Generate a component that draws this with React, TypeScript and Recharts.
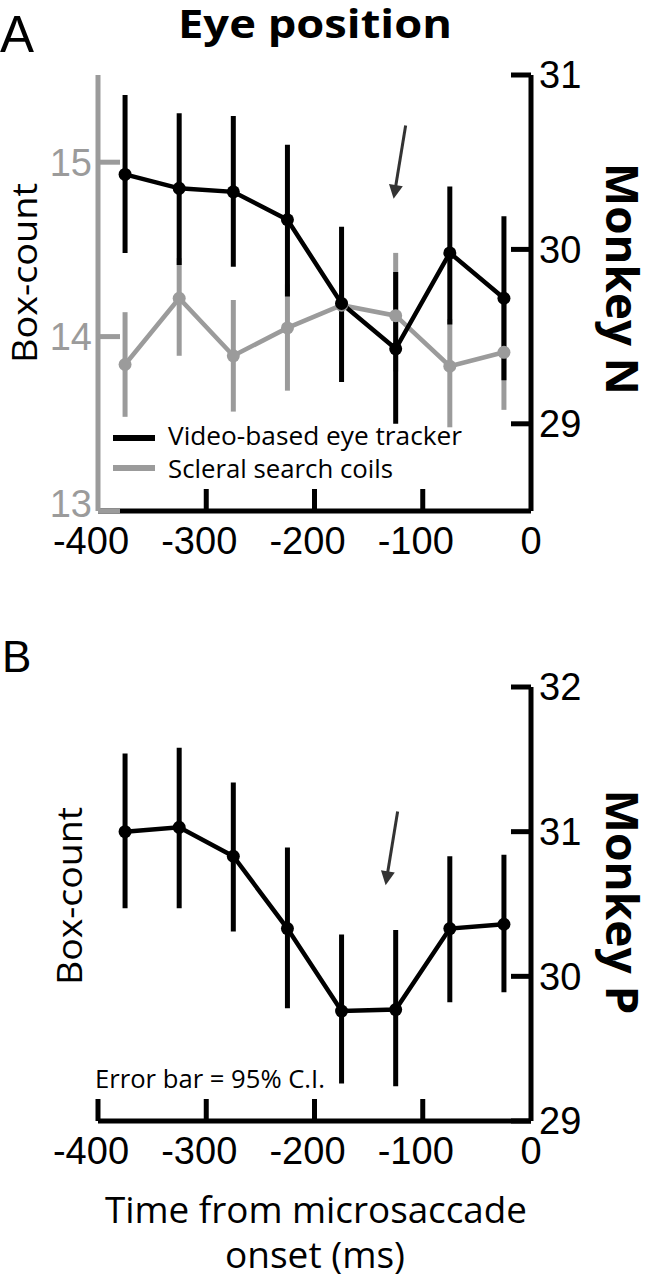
import { LineChart, Line, XAxis, YAxis, ErrorBar, ReferenceLine, Legend } from "recharts";

const TIMES = [-375, -325, -275, -225, -175, -125, -75, -25];
const X_TICKS = [-400, -300, -200, -100, 0];

// Panel A – monkey N
const VIDEO_N = [30.43, 30.35, 30.33, 30.17, 29.69, 29.43, 29.98, 29.72];
const VIDEO_N_LO = [29.98, 29.91, 29.9, 29.73, 29.24, 29.0, 29.57, 29.25];
const VIDEO_N_HI = [30.885, 30.78, 30.765, 30.6, 30.13, 29.87, 30.36, 30.19];
const COIL_N = [13.84, 14.22, 13.89, 14.05, 14.18, 14.12, 13.83, 13.91];
const COIL_N_LO = [13.54, 13.89, 13.57, 13.69, 13.92, 13.8, 13.48, 13.58];
const COIL_N_HI = [14.14, 14.45, 14.21, 14.3, 14.44, 14.48, 14.1, 14.2];
const LEFT_TICKS_N = [13, 14, 15];
const RIGHT_TICKS_N = [29, 30, 31];

// Panel B – monkey P
const VIDEO_P = [31.0, 31.03, 30.83, 30.33, 29.76, 29.77, 30.33, 30.36];
const VIDEO_P_LO = [30.47, 30.47, 30.31, 29.78, 29.26, 29.24, 29.82, 29.89];
const VIDEO_P_HI = [31.54, 31.58, 31.34, 30.89, 30.29, 30.32, 30.83, 30.84];
const RIGHT_TICKS_P = [29, 30, 31, 32];

// arrows: [time, value] of tail and tip
const ARROW_N = { from: [-115.8, 30.71], to: [-126.9, 30.29] };
const ARROW_P = { from: [-123.2, 31.14], to: [-134.3, 30.63] };

const SERIES_NAMES = ["Video-based eye tracker", "Scleral search coils"];

const BLACK = "#000";
const GRAY = "#9b9b9b";
const NUM_FONT = "'Liberation Sans', Arial, sans-serif";
const TEXT_FONT = "'Open Sans', 'Noto Sans', sans-serif";

const dataN = TIMES.map((t, i) => ({
  t,
  video: VIDEO_N[i],
  videoErr: [VIDEO_N[i] - VIDEO_N_LO[i], VIDEO_N_HI[i] - VIDEO_N[i]],
  coil: COIL_N[i],
  coilErr: [COIL_N[i] - COIL_N_LO[i], COIL_N_HI[i] - COIL_N[i]],
}));

const dataP = TIMES.map((t, i) => ({
  t,
  video: VIDEO_P[i],
  videoErr: [VIDEO_P[i] - VIDEO_P_LO[i], VIDEO_P_HI[i] - VIDEO_P[i]],
}));

function XTick({ x, y, payload, marks }: any) {
  const v = payload.value;
  const axisY = y - 16;
  return (
    <g>
      {marks.includes(v) && (
        <line x1={x} x2={x} y1={axisY} y2={axisY - 22} stroke={BLACK} strokeWidth={5} />
      )}
      <text
        x={x + (v < 0 ? -7 : 0)}
        y={y}
        dy="0.72em"
        textAnchor="middle"
        fontFamily={NUM_FONT}
        fontSize={38}
        fill={BLACK}
      >
        {v}
      </text>
    </g>
  );
}

// left (gray) axis labels; the bottom one sits a little higher, clear of the x labels
function LeftTick({ x, y, payload, index }: any) {
  return (
    <text
      x={x}
      y={y + (index === 0 ? -8 : 0)}
      dy="0.36em"
      textAnchor="end"
      fontFamily={NUM_FONT}
      fontSize={38}
      fill={GRAY}
    >
      {payload.value}
    </text>
  );
}

function Arrow(props: any) {
  const { x1, y1, x2, y2 } = props;
  const dx = x2 - x1;
  const dy = y2 - y1;
  const len = Math.sqrt(dx * dx + dy * dy);
  const ux = dx / len;
  const uy = dy / len;
  const head = 14;
  const half = 7;
  const bx = x2 - ux * head;
  const by = y2 - uy * head;
  return (
    <g>
      <line x1={x1} y1={y1} x2={bx + ux * 2} y2={by + uy * 2} stroke="#333" strokeWidth={3} />
      <polygon
        points={`${x2},${y2} ${bx - uy * half},${by + ux * half} ${bx + uy * half},${by - ux * half}`}
        fill="#333"
      />
    </g>
  );
}

function renderLegend() {
  const colors = [BLACK, GRAY];
  const widths = [294, 225];
  return (
    <svg width={380} height={80} style={{ overflow: "visible" }}>
      {SERIES_NAMES.map((name, i) => (
        <g key={name}>
          <line x1={3} x2={45} y1={18 + i * 30} y2={18 + i * 30} stroke={colors[i]} strokeWidth={6} />
          <text
            x={58}
            y={25 + i * 33}
            fontFamily={TEXT_FONT}
            fontSize={25}
            fill={BLACK}
            textLength={widths[i]}
            lengthAdjust="spacingAndGlyphs"
          >
            {name}
          </text>
        </g>
      ))}
    </svg>
  );
}

const numTick = (fill: string) => ({ fontFamily: NUM_FONT, fontSize: 38, fill });

export default function App() {
  return (
    <div style={{ position: "relative", width: 646, height: 1280, background: "#fff" }}>
      <style>{`body{margin:0;background:#fff}`}</style>

      <div style={{ position: "absolute", left: 0, top: 0 }}>
        <LineChart width={646} height={565} data={dataN} margin={{ top: 75, right: 0, bottom: 4, left: 0 }}>
          <XAxis
            type="number"
            dataKey="t"
            domain={[-400, 0]}
            ticks={X_TICKS}
            height={50}
            axisLine={{ stroke: BLACK, strokeWidth: 5 }}
            tickLine={false}
            tickSize={0}
            tickMargin={16}
            tick={<XTick marks={[-300, -200, -100]} />}
            interval={0}
          />
          <YAxis
            yAxisId="left"
            orientation="left"
            width={98}
            domain={[13, 15.5]}
            allowDataOverflow
            ticks={LEFT_TICKS_N}
            axisLine={{ stroke: GRAY, strokeWidth: 5 }}
            tickLine={{ stroke: GRAY, strokeWidth: 5 }}
            tickSize={-22}
            tickMargin={28}
            tick={<LeftTick />}
            interval={0}
          />
          <YAxis
            yAxisId="right"
            orientation="right"
            width={115}
            domain={[28.5, 31]}
            allowDataOverflow
            ticks={RIGHT_TICKS_N}
            axisLine={{ stroke: BLACK, strokeWidth: 5 }}
            tickLine={{ stroke: BLACK, strokeWidth: 5 }}
            tickSize={-20}
            tickMargin={28}
            tick={numTick(BLACK)}
            interval={0}
          />
          <Line
            yAxisId="left"
            dataKey="coil"
            name={SERIES_NAMES[1]}
            stroke={GRAY}
            strokeWidth={4.5}
            dot={{ r: 6.5, fill: GRAY, stroke: GRAY, strokeWidth: 0 }}
            isAnimationActive={false}
          >
            <ErrorBar dataKey="coilErr" width={0} stroke={GRAY} strokeWidth={5} direction="y" />
          </Line>
          <Line
            yAxisId="right"
            dataKey="video"
            name={SERIES_NAMES[0]}
            stroke={BLACK}
            strokeWidth={4.5}
            dot={{ r: 6.5, fill: BLACK, stroke: BLACK, strokeWidth: 0 }}
            isAnimationActive={false}
          >
            <ErrorBar dataKey="videoErr" width={0} stroke={BLACK} strokeWidth={5} direction="y" />
          </Line>
          <ReferenceLine
            yAxisId="right"
            segment={[
              { x: ARROW_N.from[0], y: ARROW_N.from[1] },
              { x: ARROW_N.to[0], y: ARROW_N.to[1] },
            ]}
            shape={Arrow}
          />
          <Legend
            layout="vertical"
            align="center"
            verticalAlign="middle"
            content={renderLegend}
            wrapperStyle={{ left: 110, top: 420, width: 380, height: 80 }}
          />
        </LineChart>
      </div>

      <div style={{ position: "absolute", left: 0, top: 600 }}>
        <LineChart width={646} height={580} data={dataP} margin={{ top: 87, right: 0, bottom: 4, left: 98 }}>
          <XAxis
            type="number"
            dataKey="t"
            domain={[-400, 0]}
            ticks={X_TICKS}
            height={55}
            axisLine={{ stroke: BLACK, strokeWidth: 5 }}
            tickLine={false}
            tickSize={0}
            tickMargin={16}
            tick={<XTick marks={[-400, -300, -200, -100]} />}
            interval={0}
          />
          <YAxis
            yAxisId="right"
            orientation="right"
            width={115}
            domain={[29, 32]}
            allowDataOverflow
            ticks={RIGHT_TICKS_P}
            axisLine={{ stroke: BLACK, strokeWidth: 5 }}
            tickLine={{ stroke: BLACK, strokeWidth: 5 }}
            tickSize={-20}
            tickMargin={28}
            tick={numTick(BLACK)}
            interval={0}
          />
          <Line
            yAxisId="right"
            dataKey="video"
            name={SERIES_NAMES[0]}
            stroke={BLACK}
            strokeWidth={4.5}
            dot={{ r: 6.5, fill: BLACK, stroke: BLACK, strokeWidth: 0 }}
            isAnimationActive={false}
          >
            <ErrorBar dataKey="videoErr" width={0} stroke={BLACK} strokeWidth={5} direction="y" />
          </Line>
          <ReferenceLine
            yAxisId="right"
            segment={[
              { x: ARROW_P.from[0], y: ARROW_P.from[1] },
              { x: ARROW_P.to[0], y: ARROW_P.to[1] },
            ]}
            shape={Arrow}
          />
        </LineChart>
      </div>

      <svg
        width={646}
        height={1280}
        style={{ position: "absolute", left: 0, top: 0, pointerEvents: "none" }}
      >
        <text x={0} y={52} fontFamily={NUM_FONT} fontSize={51} fill={BLACK}>A</text>
        <text
          x={178}
          y={38}
          fontFamily={TEXT_FONT}
          fontSize={40}
          fontWeight={700}
          fill={BLACK}
          textLength={274}
          lengthAdjust="spacingAndGlyphs"
        >
          Eye position
        </text>
        <text
          transform="translate(37,273) rotate(-90)"
          textAnchor="middle"
          fontFamily={TEXT_FONT}
          fontSize={34}
          fill={BLACK}
          textLength={180}
          lengthAdjust="spacingAndGlyphs"
        >
          Box-count
        </text>
        <text
          transform="translate(606,279) rotate(90)"
          textAnchor="middle"
          fontFamily={TEXT_FONT}
          fontSize={45}
          fontWeight={700}
          fill={BLACK}
          textLength={232}
          lengthAdjust="spacingAndGlyphs"
        >
          Monkey N
        </text>

        <text x={2} y={672} fontFamily={NUM_FONT} fontSize={44} fill={BLACK}>B</text>
        <text
          transform="translate(82,896) rotate(-90)"
          textAnchor="middle"
          fontFamily={TEXT_FONT}
          fontSize={34}
          fill={BLACK}
          textLength={178}
          lengthAdjust="spacingAndGlyphs"
        >
          Box-count
        </text>
        <text
          transform="translate(606,902) rotate(90)"
          textAnchor="middle"
          fontFamily={TEXT_FONT}
          fontSize={45}
          fontWeight={700}
          fill={BLACK}
          textLength={225}
          lengthAdjust="spacingAndGlyphs"
        >
          Monkey P
        </text>
        <text
          x={95}
          y={1088}
          fontFamily={TEXT_FONT}
          fontSize={26}
          fill={BLACK}
          textLength={230}
          lengthAdjust="spacingAndGlyphs"
        >
          Error bar = 95% C.I.
        </text>
        <text
          x={316}
          y={1223}
          textAnchor="middle"
          fontFamily={TEXT_FONT}
          fontSize={36}
          fill={BLACK}
          textLength={422}
          lengthAdjust="spacingAndGlyphs"
        >
          Time from microsaccade
        </text>
        <text
          x={315}
          y={1268}
          textAnchor="middle"
          fontFamily={TEXT_FONT}
          fontSize={36}
          fill={BLACK}
          textLength={180}
          lengthAdjust="spacingAndGlyphs"
        >
          onset (ms)
        </text>
      </svg>
    </div>
  );
}
